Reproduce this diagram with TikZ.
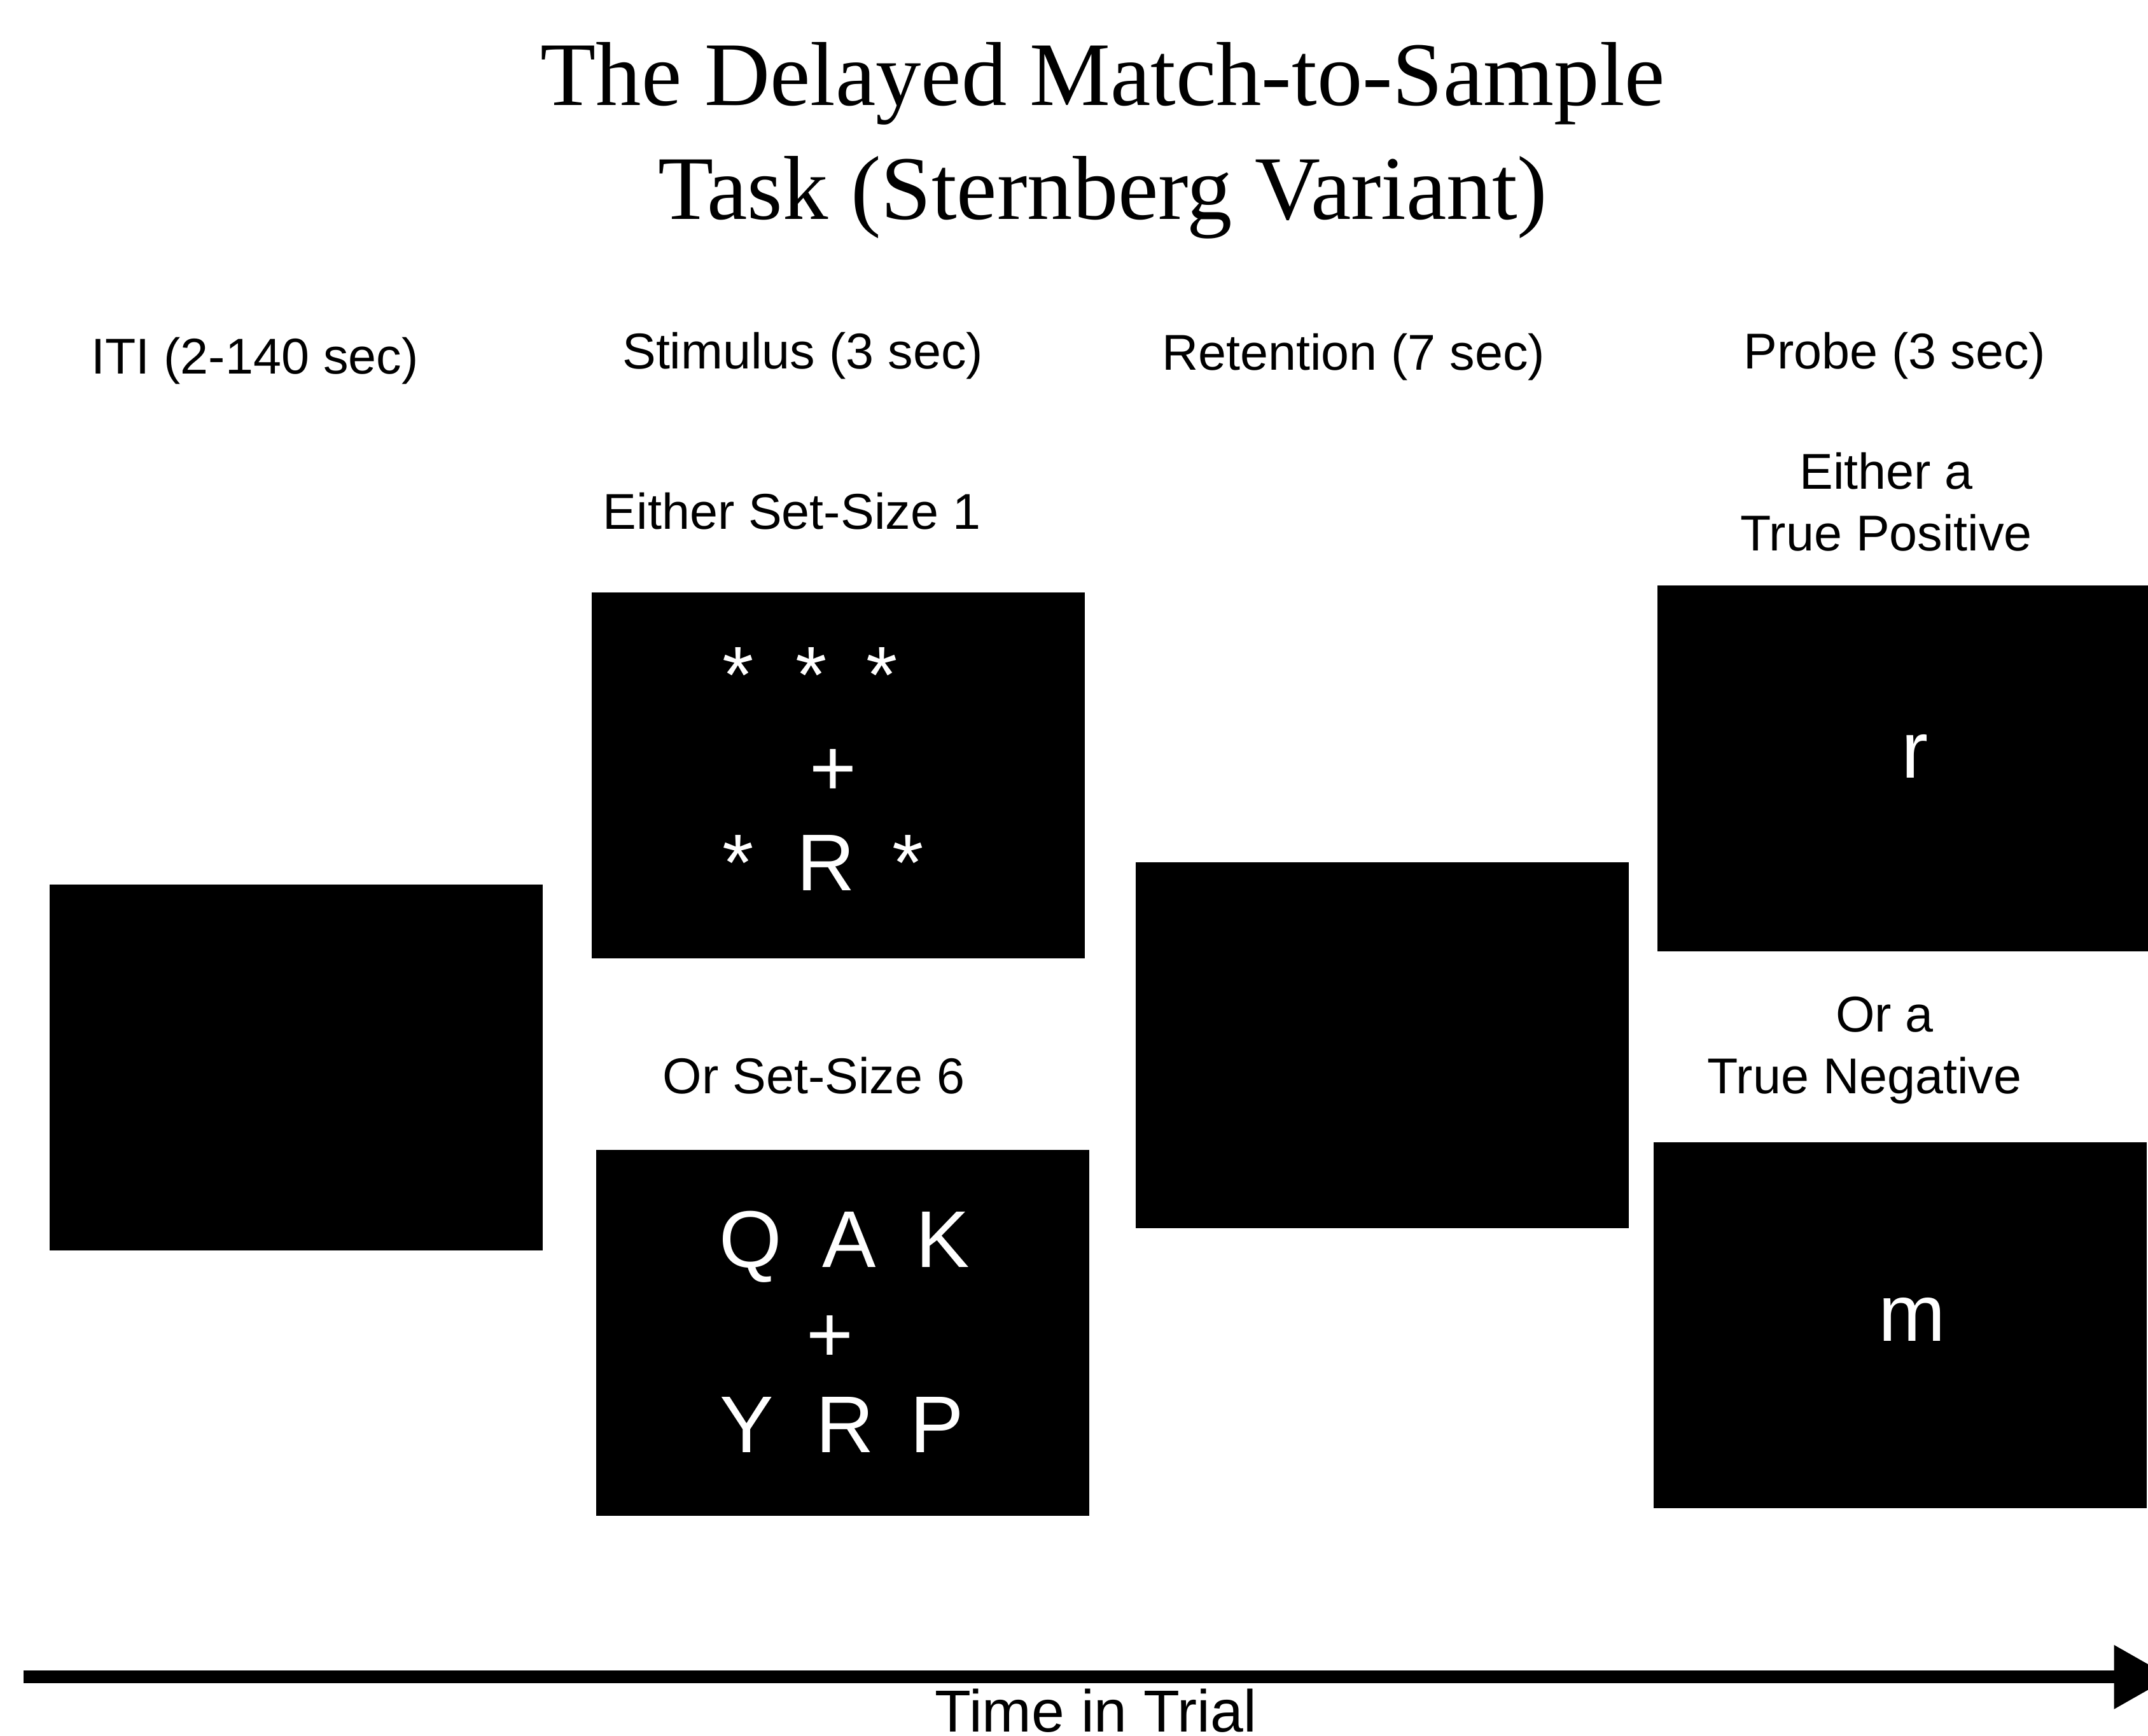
\documentclass[tikz,border=0pt]{standalone}
\usepackage{fontspec}
\setmainfont{Liberation Sans}
\newfontfamily\titlefont{Liberation Serif}
\usetikzlibrary{arrows.meta}

\tikzset{
    screen/.style={fill=black, inner sep=0pt, minimum width=7.75cm, minimum height=5.75cm},
    glyph/.style={text=white, anchor=base, inner sep=0pt, font=\fontsize{36}{36}\selectfont},
    caption/.style={anchor=base, inner sep=0pt, align=center, font=\fontsize{22.5}{27.5}\selectfont},
    timeline/.style={line width=0.2cm, -{Triangle[width=0.95cm, length=0.9cm]}}
}

\begin{document}
\begin{tikzpicture}[x=0.021531cm, y=-0.021531cm]
\useasboundingbox (0,0) rectangle (1568,1267);

\node[anchor=base, inner sep=0pt, align=center, font=\titlefont\fontsize{40.6}{51}\selectfont] (title) at (805,160) {The Delayed Match-to-Sample\\Task (Sternberg Variant)};

% phase headings
\node[caption] (itilabel) at (186,273) {ITI (2-140 sec)};
\node[caption] (stimlabel) at (586,269) {Stimulus (3 sec)};
\node[caption] (retlabel) at (988,270) {Retention (7 sec)};
\node[caption] (probelabel) at (1383,269) {Probe (3 sec)};

\node[caption] (set1label) at (578,386) {Either Set-Size 1};
\node[caption] (set6label) at (594,798) {Or Set-Size 6};
\node[caption] (poslabel) at (1377,402) {Either a\\True Positive};
\node[caption] (neglabel) at (1361,798) {\hspace*{0.8em}Or a\\True Negative};

% screens
\node[screen] (iti) at (216,779) {};
\node[screen] (set1) at (612,566) {};
\node[screen] (set6) at (615,973) {};
\node[screen] (retention) at (1009,763) {};
\node[screen] (probepos) at (1390,561) {};
\node[screen] (probeneg) at (1387,967) {};

% set-size 1
\node[glyph] (s1a) at (539,513) {*};
\node[glyph] (s1b) at (592,513) {*};
\node[glyph] (s1c) at (644,513) {*};
\node[glyph] (s1fix) at (608,581) {+};
\node[glyph] (s1d) at (539,650) {*};
\node[glyph] (s1r) at (603,650) {R};
\node[glyph] (s1e) at (663,650) {*};

% set-size 6
\node[glyph] (s6q) at (548,925) {Q};
\node[glyph] (s6a) at (620,925) {A};
\node[glyph] (s6k) at (688,925) {K};
\node[glyph] (s6fix) at (606,994) {+};
\node[glyph] (s6y) at (545,1060) {Y};
\node[glyph] (s6r) at (617,1060) {R};
\node[glyph] (s6p) at (684,1060) {P};

% probes
\node[glyph] (pr) at (1398,568) {r};
\node[glyph] (pm) at (1396,979) {m};

\coordinate (tstart) at (17,1224);
\coordinate (tend) at (1585,1224);
\draw[timeline] (tstart) -- (tend);
\node[anchor=base, inner sep=0pt, font=\fontsize{26.5}{30}\selectfont] (timelabel) at (800,1264) {Time in Trial};
\end{tikzpicture}
\end{document}
